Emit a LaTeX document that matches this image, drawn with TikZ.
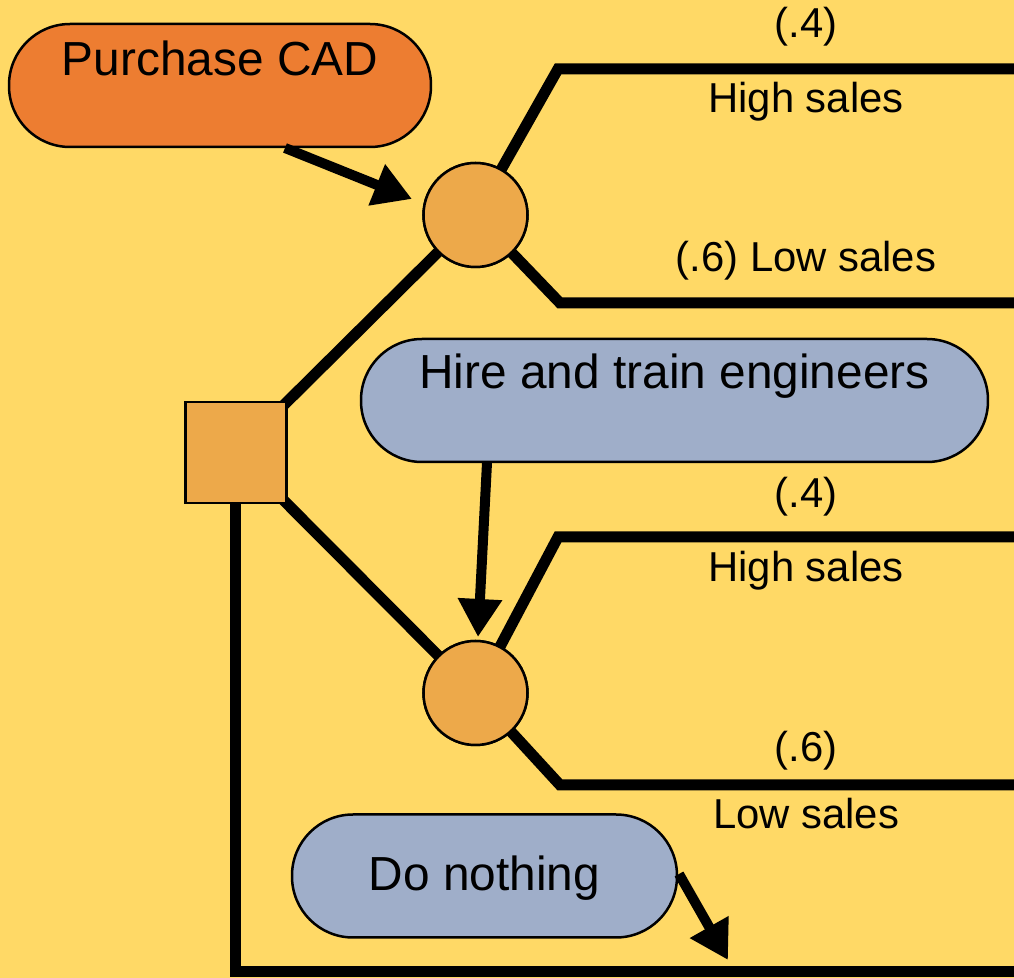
\documentclass[tikz,border=0pt]{standalone}
\usepackage{fontspec}
\setmainfont{Liberation Sans}
\usetikzlibrary{arrows.meta, positioning}

\definecolor{bgyellow}{HTML}{FFD966}
\definecolor{cadorange}{HTML}{ED7D31}
\definecolor{nodeorange}{HTML}{EDA94A}
\definecolor{pillblue}{HTML}{9FAEC9}

\tikzset{
  pill/.style={draw, line width=0.25mm, rounded corners=6.1mm, minimum width=#1, minimum height=12.3mm, inner sep=0pt},
  chance/.style={circle, draw, line width=0.25mm, fill=nodeorange, minimum size=10.4mm, inner sep=0pt, outer sep=0pt},
  decision/.style={rectangle, draw, line width=0.25mm, fill=nodeorange, minimum size=10.1mm, inner sep=0pt, outer sep=0pt},
  branch/.style={line width=1.1mm},
  bigarrow/.style={line width=1mm, -{Triangle[length=3.8mm,width=4.2mm]}},
  bigtext/.style={font=\fontsize{13.6}{16}\selectfont, inner sep=0pt, anchor=base},
  smalltext/.style={font=\fontsize{11.9}{14}\selectfont, inner sep=0pt, anchor=base},
}

\begin{document}
\begin{tikzpicture}[x=0.1mm, y=-0.1mm]
  % fond
  \fill[bgyellow] (0,0) rectangle (1014,978);
  \useasboundingbox (0,0) rectangle (1014,978);

  % ramos de acaso
  \coordinate (up1) at (558,69);
  \coordinate (upend1) at (1014,69);
  \coordinate (lo1) at (560,303);
  \coordinate (loend1) at (1014,303);
  \coordinate (up2) at (558,537);
  \coordinate (upend2) at (1014,537);
  \coordinate (lo2) at (560,785);
  \coordinate (loend2) at (1014,785);
  \coordinate (bend) at (236,972);
  \coordinate (nothingend) at (1014,972);

  \node[decision] (choice) at (236,452.5) {};
  \node[chance] (cad) at (475.5,215) {};
  \node[chance] (eng) at (475.5,693) {};

  \draw[branch] (cad.center) -- (up1) -- (upend1);
  \draw[branch] (cad.center) -- (lo1) -- (loend1);
  \draw[branch] (eng.center) -- (up2) -- (upend2);
  \draw[branch] (eng.center) -- (lo2) -- (loend2);
  \draw[branch] (choice.center) -- (cad.center);
  \draw[branch] (choice.center) -- (eng.center);
  \draw[branch] (choice.center) -- (bend) -- (nothingend);

  % redesenha os nós por cima das linhas
  \node[decision] at (choice) {};
  \node[chance] at (cad) {};
  \node[chance] at (eng) {};

  % caixas de decisão
  \node[pill=42.2mm, fill=cadorange] (cadbox) at (220,85.5) {};
  \node[bigtext] (cadtext) at (220,76) {Purchase CAD};
  \node[pill=62.7mm, fill=pillblue] (engbox) at (674.5,400.5) {};
  \node[bigtext] (engtext) at (674.5,389) {Hire and train engineers};
  \node[pill=38.5mm, fill=pillblue] (nothingbox) at (484.5,876) {};
  \node[bigtext] (nothingtext) at (484.5,891) {Do nothing};

  \coordinate (cadtip) at (412,199);
  \coordinate (engtip) at (478,637);
  \coordinate (nothingtip) at (728,960);
  \draw[bigarrow] (285,148) -- (cadtip);
  \draw[bigarrow] (487,463) -- (engtip);
  \draw[bigarrow] (679,874) -- (nothingtip);

  % probabilidades
  \node[smalltext] (p1) at (806,38) {(.4)};
  \node[smalltext] (h1) at (806,113) {High sales};
  \node[smalltext] (l1) at (806,272) {(.6) Low sales};
  \node[smalltext] (p2) at (806,508) {(.4)};
  \node[smalltext] (h2) at (806,582) {High sales};
  \node[smalltext] (p3) at (806,762) {(.6)};
  \node[smalltext] (l2) at (806,829) {Low sales};
\end{tikzpicture}
\end{document}
